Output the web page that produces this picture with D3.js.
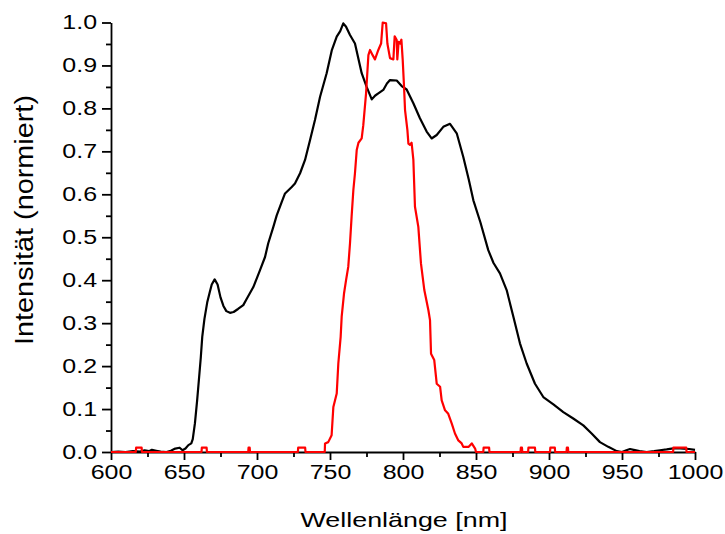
<!DOCTYPE html>
<html>
<head>
<meta charset="utf-8">
<script src="https://cdn.jsdelivr.net/npm/d3@7/dist/d3.min.js"></script>
<style>
html,body{margin:0;padding:0;background:#fff;}
svg{display:block;}
text{font-family:"Liberation Sans",Arial,sans-serif;fill:#000;}
</style>
</head>
<body>
<svg id="chart" width="725" height="534"></svg>
<script>
// Black spectrum (wavelength nm, normalized intensity)
const blackWavelength = [600,605,610,615,620,623,626,628,631,634,638,641,644,647,649,651,653,655,656,657.5,659,660,661.5,662.5,664,666,667.5,669,671,673,675,677,679,681.5,684,687,690.6,693,697.5,702,705.5,707.7,711.2,713.5,716.9,719.2,723.8,726,729.5,732.9,736.3,739.7,743.2,747.7,751.2,754.6,757,759.1,761,763.7,767.1,771.7,775.1,778.6,781,783.1,786.5,789,791.1,795.7,799.1,802.5,807.1,811.6,816.2,819.6,823.1,827.6,832.2,836.8,841.3,845,848.2,853,858.4,862,866.4,871,875.6,880.1,884.7,890.4,896.1,903,909.8,916.6,923.5,929.2,934.9,940.6,946.4,950,953,955.5,958,962,966.9,972,976,980.6,984,987.5,992,996,1000];
const blackIntensity = [0,0.001,0,0.002,0.001,0.004,0.002,0.005,0.003,0.001,0,0.003,0.008,0.01,0.004,0.008,0.016,0.02,0.03,0.067,0.12,0.16,0.22,0.268,0.31,0.35,0.37,0.39,0.402,0.39,0.36,0.34,0.328,0.324,0.326,0.333,0.342,0.357,0.384,0.423,0.454,0.486,0.524,0.551,0.582,0.602,0.617,0.625,0.649,0.68,0.726,0.773,0.827,0.882,0.935,0.967,0.98,0.998,0.99,0.971,0.951,0.882,0.85,0.821,0.83,0.835,0.843,0.858,0.866,0.865,0.852,0.844,0.812,0.777,0.746,0.73,0.738,0.757,0.764,0.742,0.687,0.635,0.586,0.535,0.47,0.44,0.416,0.377,0.315,0.253,0.206,0.159,0.128,0.111,0.093,0.078,0.062,0.043,0.023,0.012,0.002,0,0.004,0.007,0.005,0.002,0,0.002,0.004,0.006,0.008,0.009,0.008,0.007,0.005];

// Red spectrum
const redWavelength = [600,617,617.2,621,621.2,662,662.2,665.5,665.7,694,694.2,695,695.2,728,728.2,733,733.2,746.4,746.6,748.8,751.1,752.3,754.6,755.7,757.3,758,759.6,761,762.5,763.7,764.8,766,767.1,768.3,769.5,771.7,772.8,774.7,776.3,777.4,779.2,780.8,783.1,785,786.1,788.4,789.3,791.1,793.4,794.3,795.7,796.1,797,798,798.9,799.8,800.7,801.4,803,803.7,804.8,805.9,807.1,808.2,810.5,812.3,814.6,817.4,818.5,819.2,821.4,823.1,825.4,826.5,828.8,831,833.4,835.6,837.9,840.2,841.3,845,847.1,849.4,850,855,855.2,859,859.2,880.5,880.7,881.5,881.7,885.7,885.9,890.4,890.6,900.7,900.9,904,904.2,912,912.2,913,913.2,985,985.2,994,994.2,1000];
const redIntensity = [0,0,0.01,0.01,0,0,0.01,0.01,0,0,0.01,0.01,0,0,0.01,0.01,0,0,0.02,0.023,0.039,0.105,0.136,0.206,0.268,0.315,0.369,0.4,0.431,0.486,0.548,0.61,0.649,0.703,0.72,0.73,0.761,0.835,0.924,0.936,0.924,0.914,0.936,0.951,1.0,0.998,0.951,0.917,0.914,0.968,0.959,0.914,0.955,0.951,0.96,0.913,0.851,0.796,0.75,0.718,0.715,0.72,0.68,0.571,0.524,0.439,0.377,0.33,0.307,0.229,0.214,0.159,0.152,0.12,0.097,0.089,0.066,0.043,0.027,0.02,0.012,0.012,0.02,0.008,0,0,0.01,0.01,0,0,0.01,0.01,0,0,0.01,0.01,0,0,0.01,0.01,0,0,0.01,0.01,0,0,0.01,0.01,0,0];

const xTicks = [600,650,700,750,800,850,900,950,1000];
const yTicks = [0,0.1,0.2,0.3,0.4,0.5,0.6,0.7,0.8,0.9,1.0];
const xLabel = "Wellenlänge [nm]";
const yLabel = "Intensität (normiert)";

const margin = {left:111, right:30, top:22.5, bottom:82};
const W = 725, H = 534;
const svg = d3.select("#chart");
const x = d3.scaleLinear().domain([600,1000]).range([margin.left, W - margin.right]);
const y = d3.scaleLinear().domain([0,1]).range([H - margin.bottom, margin.top]);

// stretch text horizontally (the reference glyphs are wider than standard)
function stretch(sel, factor) {
  sel.each(function() {
    const L = this.getComputedTextLength();
    d3.select(this).attr("textLength", L * factor).attr("lengthAdjust", "spacingAndGlyphs");
  });
}

const xMinor = d3.range(625, 1000, 50);
const yMinor = d3.range(0.05, 1.0, 0.1);

const gx = svg.append("g").attr("transform", `translate(0,${y(0)})`);
gx.append("g").call(d3.axisBottom(x).tickValues(xMinor).tickSize(5).tickFormat(""))
  .call(g => g.select(".domain").remove());
gx.append("g").call(d3.axisBottom(x).tickValues(xTicks).tickSize(8).tickSizeOuter(0).tickPadding(4).tickFormat(d3.format("d")));
gx.selectAll("line,path").attr("stroke","#000").attr("stroke-width",1.8);
gx.selectAll("text").attr("font-size",19.5).attr("dy","0.75em").call(stretch, 1.28);

const gy = svg.append("g").attr("transform", `translate(${x(600)},0)`);
gy.append("g").call(d3.axisLeft(y).tickValues(yMinor).tickSize(5).tickFormat(""))
  .call(g => g.select(".domain").remove());
gy.append("g").call(d3.axisLeft(y).tickValues(yTicks).tickSize(9).tickSizeOuter(0).tickPadding(5).tickFormat(d3.format(".1f")));
gy.selectAll("line,path").attr("stroke","#000").attr("stroke-width",1.8);
gy.selectAll("text").attr("font-size",19.5).call(stretch, 1.28);

const line = d3.line().x(d => x(d[0])).y(d => y(d[1]));
const blackData = blackWavelength.map((w,i) => [w, blackIntensity[i]]);
const redData = redWavelength.map((w,i) => [w, redIntensity[i]]);

svg.append("path").datum(blackData).attr("d", line)
  .attr("fill","none").attr("stroke","#000").attr("stroke-width",2.2).attr("stroke-linejoin","round");
svg.append("path").datum(redData).attr("d", line)
  .attr("fill","none").attr("stroke","#ff0000").attr("stroke-width",2.2).attr("stroke-linejoin","round");

svg.append("text").attr("x", 404).attr("y", 527)
  .attr("text-anchor","middle").attr("font-size",21).text(xLabel)
  .attr("textLength", 207).attr("lengthAdjust","spacingAndGlyphs");
svg.append("text").attr("transform", `translate(33,220) rotate(-90)`)
  .attr("text-anchor","middle").attr("font-size",25).text(yLabel)
  .attr("textLength", 250).attr("lengthAdjust","spacingAndGlyphs");
</script>
</body>
</html>
